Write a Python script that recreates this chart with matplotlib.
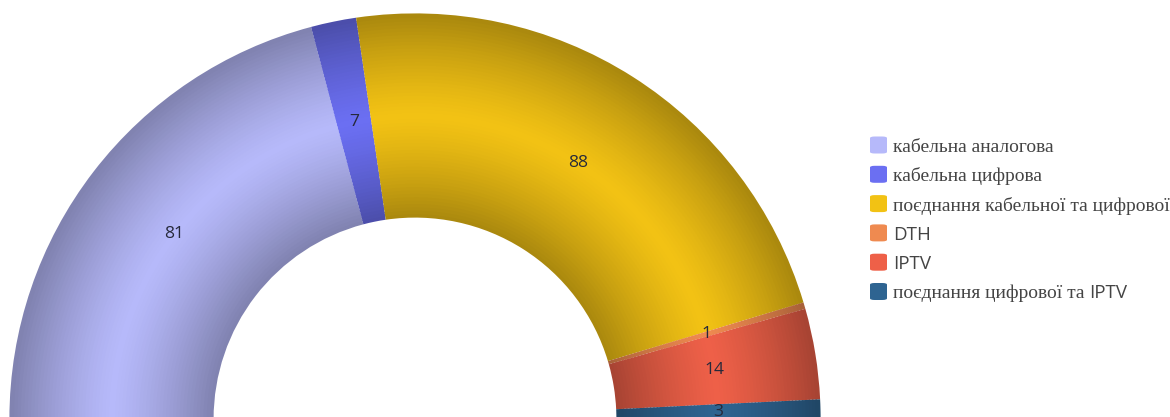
import numpy as np
import matplotlib
matplotlib.use("Agg")
import matplotlib.pyplot as plt
from matplotlib.patches import FancyBboxPatch
from matplotlib.colors import to_rgb

# ---- data ----
categories = ["кабельна аналогова", "кабельна цифрова", "поєднання кабельної та цифрової",
              "DTH", "IPTV", "поєднання цифрової та IPTV"]
values = [81, 7, 88, 1, 14, 3]
colors = ["#b6b9fa", "#6b6ff2", "#f2c214", "#ef8a50", "#ee6048", "#2e6491"]
# legend text segments: (text, is_latin)
legend_segments = [
    [("кабельна аналогова", False)],
    [("кабельна цифрова", False)],
    [("поєднання кабельної та цифрової", False)],
    [("DTH", True)],
    [("IPTV", True)],
    [("поєднання цифрової та ", False), ("IPTV", True)],
]

W, H = 1170, 417
fig = plt.figure(figsize=(W / 100, H / 100), dpi=100)
ax = fig.add_axes([0, 0, 1, 1])

cx, cy = 415, -2
R_out, R_in = 405, 202
hidden = sum(values)
vals_all = values + [hidden]

# radial shading: many thin rings
n = 60
edges = np.linspace(R_in, R_out, n + 1)
for i in range(n):
    r0, r1 = edges[i], edges[i + 1]
    t = ((r0 + r1) / 2 - R_in) / (R_out - R_in)
    f = 1 - 0.30 * abs(2 * t - 1) ** 1.3
    cols = [tuple(np.clip(np.array(to_rgb(c)) * f, 0, 1)) for c in colors] + [(1, 1, 1, 0)]
    ax.pie(vals_all, radius=r1 + 0.6, center=(cx, cy), startangle=180, counterclock=False,
           colors=cols, wedgeprops=dict(width=(r1 - r0) + 1.2, linewidth=0), frame=True)

ax.set_xlim(0, W)
ax.set_ylim(0, H)
ax.set_aspect("equal")
ax.axis("off")

# labels from slice angles
total = sum(vals_all)
ang = 180.0
rm = (R_in + R_out) / 2
for v in values:
    span = v / total * 360
    mid = np.deg2rad(ang - span / 2)
    ax.text(cx + rm * np.cos(mid), cy + rm * np.sin(mid), str(v), ha="center", va="center",
            fontsize=12.6, family=["Open Sans", "DejaVu Sans"], color="#26293a")
    ang -= span

# legend (manual, mixed fonts like the reference)
renderer = fig.canvas.get_renderer()
x0, y_top, dy = 870, 145, 29.3
sq = 17
for i, (segs, c) in enumerate(zip(legend_segments, colors)):
    yc = y_top + i * dy
    fig.patches.append(FancyBboxPatch(((x0) / W, (H - yc - sq / 2) / H), sq / W, sq / H,
                                      boxstyle="round,pad=0,rounding_size=0.004",
                                      transform=fig.transFigure, facecolor=c, edgecolor="none"))
    x = x0 + sq + 6
    for txt, latin in segs:
        fam = ["Open Sans", "DejaVu Sans"] if latin else ["Liberation Serif", "DejaVu Serif"]
        fs = 13.5 if latin else 14.0
        t = fig.text(x / W, (H - yc) / H, txt, ha="left", va="center_baseline", fontsize=fs,
                     family=fam, color="#444444")
        bb = t.get_window_extent(renderer)
        x += bb.width

fig.savefig("out.png", dpi=100)
